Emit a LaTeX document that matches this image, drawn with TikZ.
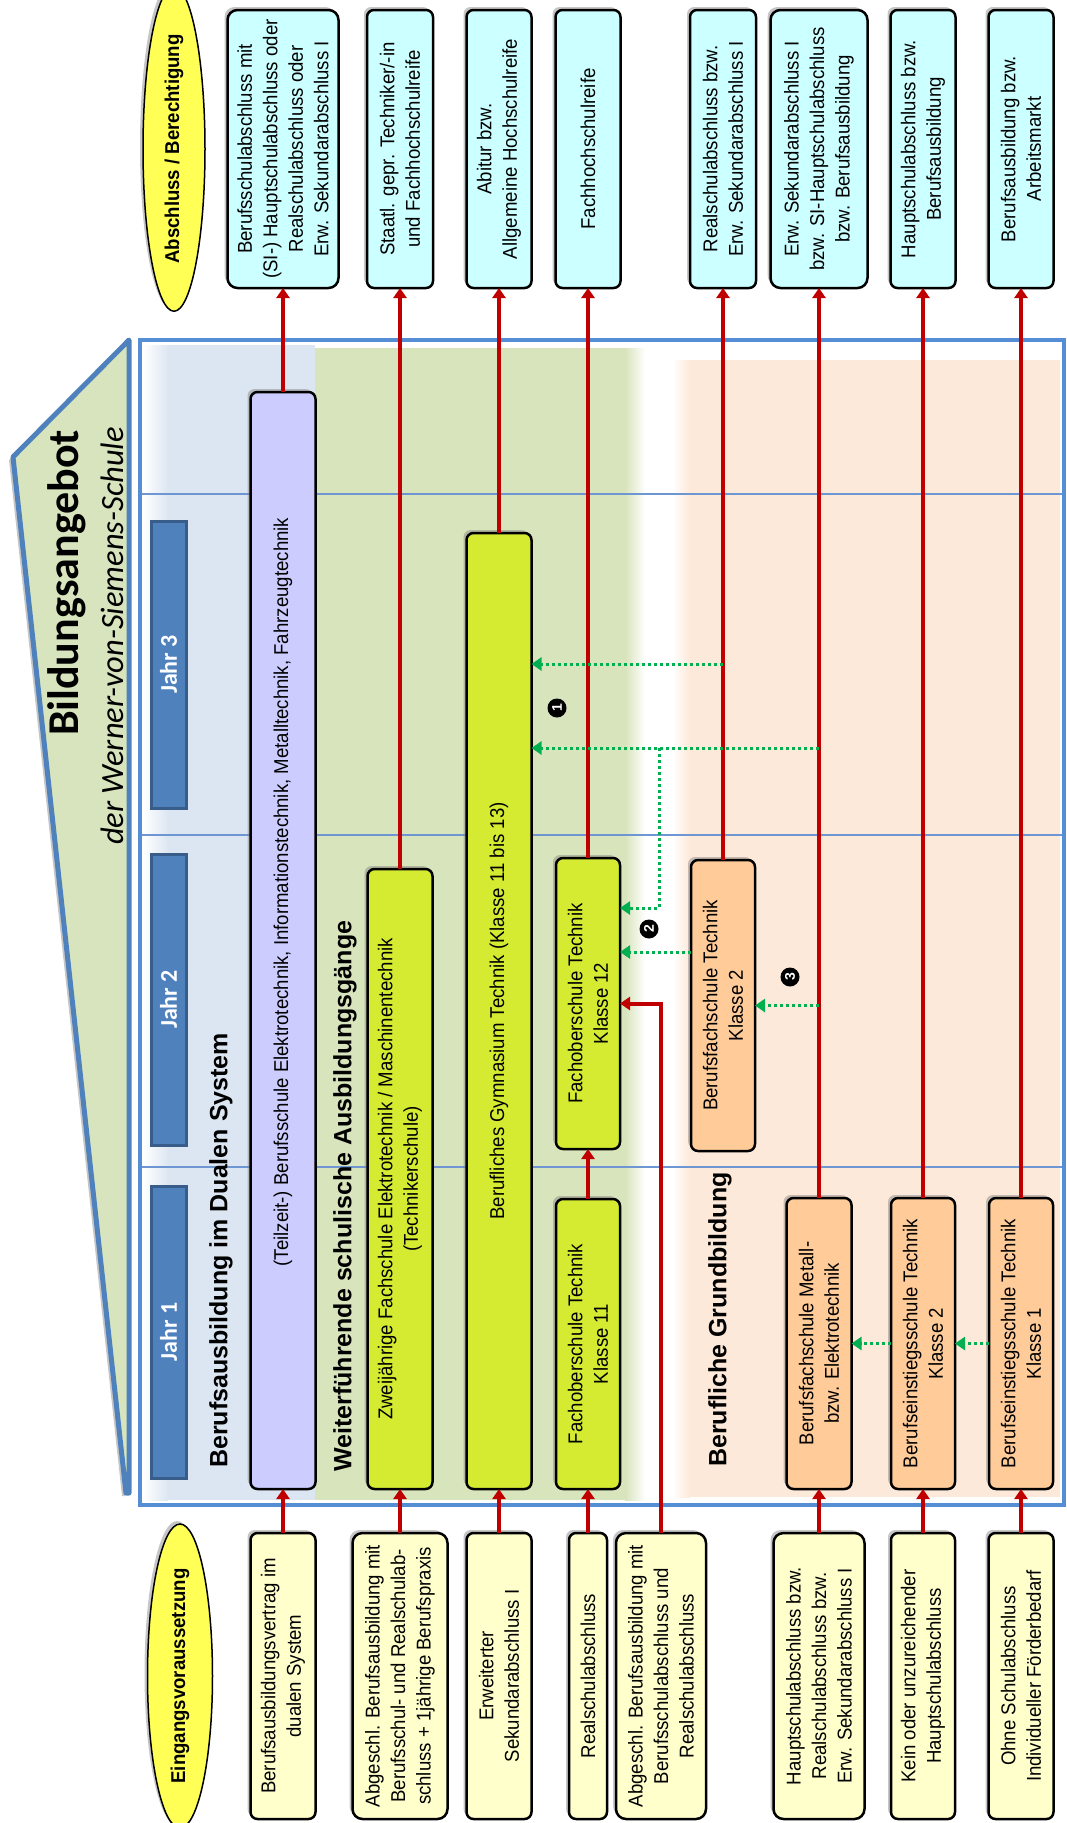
\documentclass[tikz,border=0pt]{standalone}
\usepackage{fontspec}
\setmainfont{Liberation Sans}
\newfontfamily\boxf[FakeStretch=0.93]{Liberation Sans}
\newfontfamily\calf{Carlito}
\usetikzlibrary{shapes.geometric,arrows.meta,shadows}
\definecolor{cyanb}{RGB}{204,255,255}
\definecolor{yellowb}{RGB}{255,255,204}
\definecolor{purpleb}{RGB}{204,204,255}
\definecolor{greenb}{RGB}{212,235,50}
\definecolor{orangeb}{RGB}{255,204,153}
\definecolor{bandblue}{RGB}{220,230,242}
\definecolor{bandgreen}{RGB}{216,228,188}
\definecolor{bandpeach}{RGB}{253,233,217}
\definecolor{frameblue}{RGB}{85,142,213}
\definecolor{jahrblue}{RGB}{79,129,189}
\definecolor{jahrdark}{RGB}{56,93,138}
\definecolor{titlefill}{RGB}{215,228,189}
\definecolor{redc}{RGB}{192,0,0}
\definecolor{greenc}{RGB}{0,176,80}
\definecolor{ylinec}{RGB}{110,150,210}
\definecolor{ovalyellow}{RGB}{255,255,85}
\begin{document}
\begin{tikzpicture}[x=1pt,y=-1pt,
  box/.style={draw=black,line width=2.5pt,rounded corners=7pt,rotate=90,inner sep=0pt,outer sep=0pt,align=center,
    font=\boxf\fontsize{20}{25.5}\selectfont,
    drop shadow={opacity=0.45,shadow xshift=-3pt,shadow yshift=3pt}},
  abox/.style={box,fill=cyanb,minimum width=278pt},
  ebox/.style={box,fill=yellowb,minimum width=286pt},
  gbox/.style={box,fill=greenb},
  obox/.style={box,fill=orangeb},
  oval/.style={ellipse,draw=black,line width=1.5pt,fill=ovalyellow,rotate=90,inner sep=0pt,outer sep=0pt,
    font=\boxf\bfseries\fontsize{20}{24}\selectfont,
    drop shadow={opacity=0.45,shadow xshift=-3pt,shadow yshift=3pt}},
  rarrow/.style={draw=redc,line width=4pt,-{Triangle[width=13pt,length=10pt]}},
  garrow/.style={draw=greenc,line width=3pt,dash pattern=on 3pt off 3pt,-{Triangle[width=13pt,length=10pt]}},
  head/.style={rotate=90,anchor=west,inner sep=0pt,font=\bfseries\fontsize{25}{30}\selectfont},
  jahr/.style={draw=jahrdark,fill=jahrblue,line width=3pt,rotate=90,inner sep=0pt,minimum height=35pt,text=white,
    font=\calf\bfseries\fontsize{24}{28}\selectfont},
  numc/.style={circle,fill=black,text=white,inner sep=0pt,minimum size=19pt,rotate=90,
    font=\bfseries\fontsize{14}{14}\selectfont},
  yline/.style={draw=ylinec,line width=1.2pt}
]
\useasboundingbox (0,0) rectangle (1067,1823);

% title shape
\draw[draw=jahrblue,line width=5pt,fill=titlefill,line join=round,
  drop shadow={opacity=0.45,shadow xshift=-4pt,shadow yshift=-3pt}]
  (129,340) -- (13,457) -- (126,1493) -- (129,1493) -- cycle;
\node[rotate=90,inner sep=0pt,font=\calf\bfseries\fontsize{44}{44}\selectfont] (title) at (67,583) {Bildungsangebot};
\node[rotate=90,inner sep=0pt,font=\calf\itshape\fontsize{32.5}{32.5}\selectfont] (subtitle) at (112,636) {der Werner-von-Siemens-Schule};

% frame and bands
\fill[white] (140,340) rectangle (1064,1505);
\shade[left color=white,right color=bandblue] (143,345) rectangle (168,1500);
\fill[bandblue] (168,345) rectangle (315,1500);
\fill[bandgreen] (315,348) rectangle (625,1500);
\shade[left color=bandgreen,right color=white] (625,348) rectangle (645,1500);
\shade[left color=white,right color=bandpeach] (672,360) rectangle (690,1497);
\fill[bandpeach] (690,360) rectangle (1060,1497);
\draw[yline] (140,494) -- (1064,494);
\draw[yline] (140,835) -- (1064,835);
\draw[yline] (140,1167) -- (1064,1167);
\draw[frameblue,line width=4pt] (140,340) rectangle (1064,1505);

% year labels
\node[jahr,minimum width=287pt] (J3) at (168.5,664.5) {Jahr 3};
\node[jahr,minimum width=291pt] (J2) at (168.5,999.5) {Jahr 2};
\node[jahr,minimum width=292pt] (J1) at (168.5,1332) {Jahr 1};

% headings
\node[head] (h1) at (221,1468) {Berufsausbildung im Dualen System};
\node[head] (h2) at (345,1472) {Weiterführende schulische Ausbildungsgänge};
\node[head] (h3) at (720,1467) {Berufliche Grundbildung};

% top row
\node[oval,minimum width=277pt,minimum height=62pt] (A0) at (174,149) {Abschluss / Berechtigung};
\node[abox,minimum height=111pt,rounded corners=10pt] (A1) at (283,149) {Berufsschulabschluss mit\\(SI-) Hauptschulabschluss oder\\Realschulabschluss oder\\Erw. Sekundarabschluss I};
\node[abox,minimum height=66pt] (A2) at (400,149) {Staatl. gepr. Techniker/-in\\und Fachhochschulreife};
\node[abox,minimum height=65pt] (A3) at (499,149) {Abitur bzw.\\Allgemeine Hochschulreife};
\node[abox,minimum height=65pt] (A4) at (588,149) {Fachhochschulreife};
\node[abox,minimum height=66pt] (A5) at (723,149) {Realschulabschluss bzw.\\Erw. Sekundarabschluss I};
\node[abox,minimum height=97pt,rounded corners=10pt] (A6) at (819,149) {Erw. Sekundarabschluss I\\bzw. SI-Hauptschulabschluss\\bzw. Berufsausbildung};
\node[abox,minimum height=65pt] (A7) at (923,149) {Hauptschulabschluss bzw.\\Berufsausbildung};
\node[abox,minimum height=65pt] (A8) at (1021,149) {Berufsausbildung bzw.\\Arbeitsmarkt};

% bottom row
\node[oval,minimum width=290pt,minimum height=65pt] (E0) at (180,1676) {Eingangsvoraussetzung};
\node[ebox,minimum height=65pt] (E1) at (283,1676) {Berufsausbildungsvertrag im\\dualen System};
\node[ebox,minimum height=95pt,rounded corners=10pt] (E2) at (400,1676) {Abgeschl. Berufsausbildung mit\\Berufsschul- und Realschulab-\\schluss + 1jährige Berufspraxis};
\node[ebox,minimum height=65pt] (E3) at (499,1676) {Erweiterter\\Sekundarabschluss I};
\node[ebox,minimum height=38pt] (E4) at (588,1676) {Realschulabschluss};
\node[ebox,minimum height=90pt,rounded corners=10pt] (E5) at (661,1676) {Abgeschl. Berufsausbildung mit\\Berufsschulabschluss und\\Realschulabschluss};
\node[ebox,minimum height=91pt,rounded corners=10pt] (E6) at (819,1676) {Hauptschulabschluss bzw.\\Realschulabschluss bzw.\\Erw. Sekundarabschluss I};
\node[ebox,minimum height=64pt] (E7) at (923,1676) {Kein oder unzureichender\\Hauptschulabschluss};
\node[ebox,minimum height=65pt] (E8) at (1021,1676) {Ohne Schulabschluss\\Individueller Förderbedarf};

% programmes
\node[box,fill=purpleb,minimum width=1097pt,minimum height=65pt] (Dual) at (283,940.5) {\hspace*{97pt}(Teilzeit-) Berufsschule Elektrotechnik, Informationstechnik, Metalltechnik, Fahrzeugtechnik};
\node[gbox,minimum width=620pt,minimum height=65pt] (Zwei) at (400,1179) {Zweijährige Fachschule Elektrotechnik / Maschinentechnik\\(Technikerschule)};
\node[gbox,minimum width=956pt,minimum height=65pt] (Gym) at (499,1011) {Berufliches Gymnasium Technik (Klasse 11 bis 13)};
\node[gbox,minimum width=291pt,minimum height=64pt] (FOS12) at (588,1003.5) {Fachoberschule Technik\\Klasse 12};
\node[gbox,minimum width=290pt,minimum height=64pt] (FOS11) at (588,1344) {Fachoberschule Technik\\Klasse 11};
\node[obox,minimum width=291pt,minimum height=64pt] (BFS2) at (723,1005.5) {Berufsfachschule Technik\\Klasse 2};
\node[obox,minimum width=291pt,minimum height=65pt] (Metall) at (819,1343.5) {Berufsfachschule Metall-\\bzw. Elektrotechnik};
\node[obox,minimum width=291pt,minimum height=64pt] (BES2) at (923,1343.5) {Berufseinstiegsschule Technik\\Klasse 2};
\node[obox,minimum width=291pt,minimum height=64pt] (BES1) at (1021,1343.5) {Berufseinstiegsschule Technik\\Klasse 1};

% red arrows
\draw[rarrow] (E1.east) -- (Dual.west);
\draw[rarrow] (Dual.east) -- (A1.west);
\draw[rarrow] (E2.east) -- (Zwei.west);
\draw[rarrow] (Zwei.east) -- (A2.west);
\draw[rarrow] (E3.east) -- (Gym.west);
\draw[rarrow] (Gym.east) -- (A3.west);
\draw[rarrow] (E4.east) -- (FOS11.west);
\draw[rarrow] (FOS11.east) -- (FOS12.west);
\draw[rarrow] (FOS12.east) -- (A4.west);
\draw[rarrow] (E5.east) |- (FOS12.south);
\draw[rarrow] (BFS2.east) -- (A5.west);
\draw[rarrow] (E6.east) -- (Metall.west);
\draw[rarrow] (Metall.east) -- (A6.west);
\draw[rarrow] (E7.east) -- (BES2.west);
\draw[rarrow] (BES2.east) -- (A7.west);
\draw[rarrow] (E8.east) -- (BES1.west);
\draw[rarrow] (BES1.east) -- (A8.west);

% green dotted arrows
\coordinate (g1) at (723,664);
\coordinate (g2) at (819,748);
\coordinate (g2b) at (659,748);
\coordinate (g2c) at (659,908);
\coordinate (g3) at (0,952);
\coordinate (g4) at (819,1005.5);
\draw[garrow] (g1) -- (g1 -| Gym.south);
\draw[garrow] (g2) -- (g2 -| Gym.south);
\draw[garrow] (g2b) -- (g2c) -- (g2c -| FOS12.south);
\draw[garrow] (BFS2.north |- g3) -- (FOS12.south |- g3);
\draw[garrow] (g4) -- (BFS2.south);
\draw[garrow] (BES2.north) -- (Metall.south);
\draw[garrow] (BES1.north) -- (BES2.south);

% numbers
\node[numc] (n1) at (557,708) {1};
\node[numc] (n2) at (649,929) {2};
\node[numc] (n3) at (790,977) {3};
\end{tikzpicture}
\end{document}
